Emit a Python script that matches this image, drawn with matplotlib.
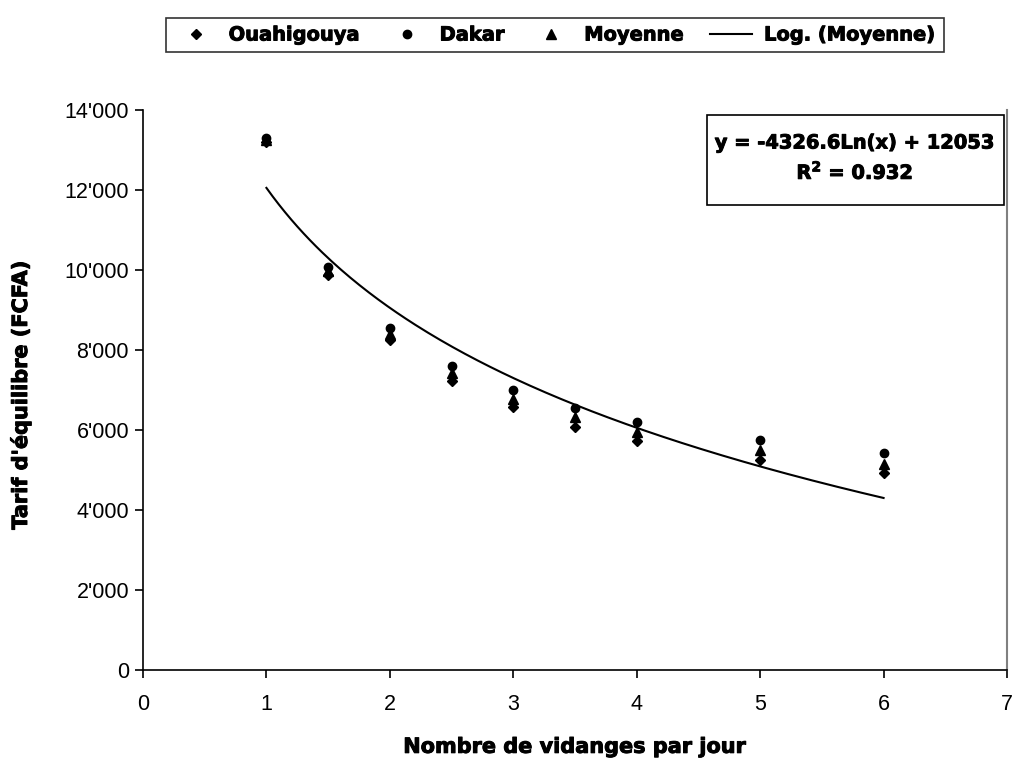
import numpy as np
import matplotlib
matplotlib.use("Agg")
import matplotlib.pyplot as plt
from matplotlib.ticker import FuncFormatter, MultipleLocator
from matplotlib.patches import Rectangle
import matplotlib.patheffects as pe

# Data
x_vals = [1, 1.5, 2, 2.5, 3, 3.5, 4, 5, 6]
ouahigouya = [13200, 9880, 8250, 7230, 6580, 6080, 5730, 5250, 4930]
dakar = [13300, 10080, 8550, 7600, 7000, 6550, 6200, 5750, 5430]
moyenne = [13250, 9980, 8400, 7420, 6780, 6320, 5960, 5500, 5160]
trend_a = -4326.6
trend_b = 12053
eq_text = "y = -4326.6Ln(x) + 12053"
r2_text = "R$^{\\mathbf{2}}$ = 0.932"

W, H = 1015, 769
fig = plt.figure(figsize=(W/100, H/100), dpi=100)
ax = fig.add_axes([143/W, 1-670/H, (1007-143)/W, (670-110)/H])

heavy = [pe.withStroke(linewidth=0.7, foreground='black')]

ax.plot(x_vals, ouahigouya, linestyle='none', marker='D', ms=5.5, color='black', label='Ouahigouya')
ax.plot(x_vals, dakar, linestyle='none', marker='o', ms=6, color='black', label='Dakar')
ax.plot(x_vals, moyenne, linestyle='none', marker='^', ms=6.5, color='black', label='Moyenne')
xt = np.linspace(min(x_vals), max(x_vals), 200)
ax.plot(xt, trend_a*np.log(xt) + trend_b, color='black', lw=1.5, label='Log. (Moyenne)')

ax.set_xlim(0, 7)
ax.set_ylim(0, 14000)
ax.xaxis.set_major_locator(MultipleLocator(1))
ax.yaxis.set_major_locator(MultipleLocator(2000))
ax.yaxis.set_major_formatter(FuncFormatter(lambda v, p: "0" if v == 0 else f"{int(v):,}".replace(",", "'")))

ax.spines['top'].set_visible(False)
ax.spines['right'].set_color('#808080')
ax.spines['right'].set_linewidth(1.5)
ax.spines['left'].set_linewidth(1.2)
ax.spines['bottom'].set_linewidth(1.2)
ax.tick_params(direction='out', length=6, width=1.2, labelsize=15.5)
ax.tick_params(axis='x', pad=11)
ax.tick_params(axis='y', pad=4)
for lab in ax.get_xticklabels() + ax.get_yticklabels():
    lab.set_fontfamily('Liberation Sans')

lab_font = dict(family='DejaVu Sans', weight='bold', size=15)
xl = ax.set_xlabel("Nombre de vidanges par jour", fontdict=lab_font, labelpad=16)
yl = ax.set_ylabel("Tarif d'équilibre (FCFA)", fontdict=lab_font)
ax.yaxis.set_label_coords(31/W, 1-395/H, transform=fig.transFigure)
yl.set_path_effects(heavy)
xl.set_path_effects(heavy)

# Equation box
fig.patches.append(Rectangle((707/W, 1-205/H), (1004-707)/W, 90/H, transform=fig.transFigure,
                             facecolor='white', edgecolor='black', linewidth=1.2, zorder=5))
t1 = fig.text(855/W, 1-143/H, eq_text, ha='center', va='center', family='DejaVu Sans',
              weight='bold', size=14, zorder=6)
t2 = fig.text(855/W, 1-172/H, r2_text, ha='center', va='center', family='DejaVu Sans',
              weight='bold', size=14, zorder=6)
t1.set_path_effects(heavy)
t2.set_path_effects(heavy)

handles, labels = ax.get_legend_handles_labels()
leg = fig.legend(handles, labels, loc='center', bbox_to_anchor=(555/W, 1-35/H), ncol=4,
                 frameon=True, fancybox=False, edgecolor='black', handlelength=2.2,
                 columnspacing=1.3, handletextpad=0.6, borderpad=0.4,
                 prop=dict(family='DejaVu Sans', weight='bold', size=14))
leg.get_frame().set_linewidth(1.2)
for t in leg.get_texts():
    t.set_path_effects(heavy)

fig.savefig("out.png", dpi=100)
